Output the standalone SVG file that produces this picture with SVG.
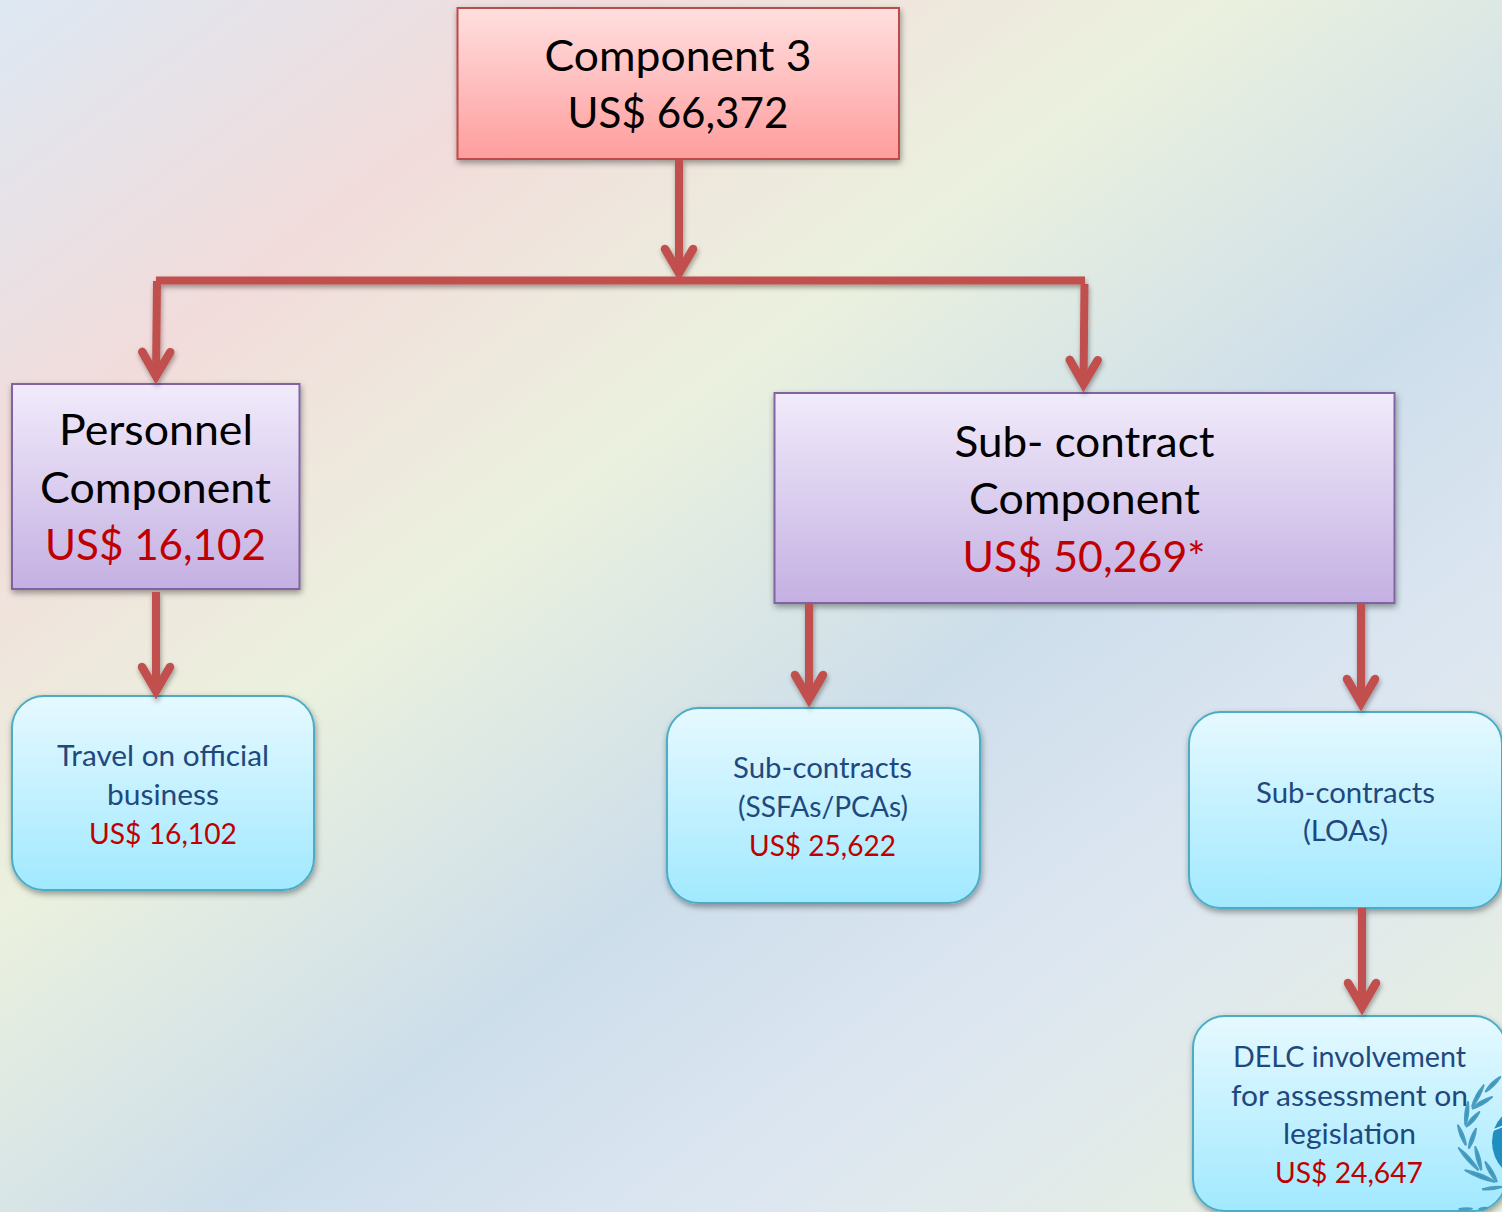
<svg xmlns="http://www.w3.org/2000/svg" width="1502" height="1212" viewBox="0 0 1502 1212">
<style>
text{font-family:"Lato","Open Sans","Liberation Sans",sans-serif;text-anchor:middle}
.big{font-size:42.5px}.small{font-size:29px}
.k{fill:#000}.r{fill:#c00000}.b{fill:#1f497d}
.red{fill:url(#gRed);stroke:#be4b48;stroke-width:2;filter:url(#sh)}
.pur{fill:url(#gPur);stroke:#8064a2;stroke-width:2;filter:url(#sh)}
.cy{fill:url(#gCy);stroke:#4bacc6;stroke-width:2;filter:url(#sh)}
.c{fill:none;stroke:#c0504d;stroke-width:8}
.leaf{fill:#2f93b5;stroke:#4a9cc0;stroke-width:6;stroke-linejoin:round}
</style>
<defs>
<linearGradient id="bg" gradientUnits="userSpaceOnUse" x1="0" y1="0" x2="1122" y2="1497">
<stop offset="0" stop-color="#dde8f3"/><stop offset=".2" stop-color="#f2dcdb"/><stop offset=".39" stop-color="#ebf1de"/><stop offset=".59" stop-color="#cddeeb"/><stop offset=".74" stop-color="#dce6f1"/><stop offset="1" stop-color="#ebf1de"/>
</linearGradient>
<linearGradient id="gRed" x1="0" y1="0" x2="0" y2="1"><stop offset="0" stop-color="#ffdfdf"/><stop offset="1" stop-color="#ff9d9d"/></linearGradient>
<linearGradient id="gPur" x1="0" y1="0" x2="0" y2="1"><stop offset="0" stop-color="#f1ebfb"/><stop offset="1" stop-color="#c4b0e2"/></linearGradient>
<linearGradient id="gCy" x1="0" y1="0" x2="0" y2="1"><stop offset="0" stop-color="#e6f9ff"/><stop offset="1" stop-color="#a1e9ff"/></linearGradient>
<filter id="sh" x="-10%" y="-10%" width="120%" height="125%"><feDropShadow dx="1" dy="3" stdDeviation="3" flood-color="#000" flood-opacity=".38"/></filter>
<filter id="lsh" filterUnits="userSpaceOnUse" x="0" y="0" width="1502" height="1212"><feDropShadow dx="1" dy="3" stdDeviation="2.5" flood-color="#000" flood-opacity=".35"/></filter>
<marker id="arrow" markerUnits="userSpaceOnUse" viewBox="-36 -24 48 48" markerWidth="48" markerHeight="48" refX="0" refY="0" orient="auto">
<path d="M-24,-14 L0,0 L-24,14" fill="none" stroke="#c0504d" stroke-width="8.500" stroke-linecap="round" stroke-miterlimit="6"/>
</marker>
</defs>
<rect id="background" width="1502" height="1212" fill="url(#bg)"/>
<g id="node-component3">
<rect class="red" x="457.500" y="8" width="441.500" height="151"/>
<text class="big k" x="678" y="70.500" textLength="267" lengthAdjust="spacingAndGlyphs">Component 3</text>
<text class="big k" x="678" y="128" textLength="221" lengthAdjust="spacingAndGlyphs">US$ 66,372</text>
</g>
<g id="node-personnel">
<rect class="pur" x="12" y="384" width="287.500" height="205"/>
<text class="big k" x="156" y="445" textLength="194" lengthAdjust="spacingAndGlyphs">Personnel</text>
<text class="big k" x="155.500" y="503" textLength="231" lengthAdjust="spacingAndGlyphs">Component</text>
<text class="big r" x="155.500" y="560" textLength="221" lengthAdjust="spacingAndGlyphs">US$ 16,102</text>
</g>
<g id="node-subcontract">
<rect class="pur" x="774.500" y="393" width="620" height="210"/>
<text class="big k" x="1084.500" y="457" textLength="260" lengthAdjust="spacingAndGlyphs">Sub- contract</text>
<text class="big k" x="1084.500" y="514" textLength="231" lengthAdjust="spacingAndGlyphs">Component</text>
<text class="big r" x="1084" y="572" textLength="243" lengthAdjust="spacingAndGlyphs">US$ 50,269*</text>
</g>
<g id="node-travel">
<rect class="cy" x="12" y="696" width="302" height="194" rx="32"/>
<text class="small b" x="163" y="766" textLength="212" lengthAdjust="spacingAndGlyphs">Travel on official</text>
<text class="small b" x="163" y="804.500" textLength="112" lengthAdjust="spacingAndGlyphs">business</text>
<text class="small r" x="163" y="843.500" textLength="148" lengthAdjust="spacingAndGlyphs">US$ 16,102</text>
</g>
<g id="node-ssfas">
<rect class="cy" x="667" y="708" width="313" height="195" rx="32"/>
<text class="small b" x="822.500" y="778" textLength="179" lengthAdjust="spacingAndGlyphs">Sub-contracts</text>
<text class="small b" x="823" y="817" textLength="170" lengthAdjust="spacingAndGlyphs">(SSFAs/PCAs)</text>
<text class="small r" x="822.500" y="855.500" textLength="147" lengthAdjust="spacingAndGlyphs">US$ 25,622</text>
</g>
<g id="node-loas">
<rect class="cy" x="1189" y="712" width="313" height="196" rx="32"/>
<text class="small b" x="1345.500" y="802.500" textLength="179" lengthAdjust="spacingAndGlyphs">Sub-contracts</text>
<text class="small b" x="1345.500" y="841" textLength="85" lengthAdjust="spacingAndGlyphs">(LOAs)</text>
</g>
<g id="node-delc">
<rect class="cy" x="1193" y="1016" width="313" height="195" rx="32"/>
<text class="small b" x="1349.500" y="1067" textLength="233" lengthAdjust="spacingAndGlyphs">DELC involvement</text>
<text class="small b" x="1349.500" y="1106" textLength="237" lengthAdjust="spacingAndGlyphs">for assessment on</text>
<text class="small b" x="1349.500" y="1144" textLength="133" lengthAdjust="spacingAndGlyphs">legislation</text>
<text class="small r" x="1349" y="1182.500" textLength="148" lengthAdjust="spacingAndGlyphs">US$ 24,647</text>
</g>
<g id="connectors" filter="url(#lsh)">
<path class="c" d="M156,280.500H1085"/>
<path class="c" d="M679,160V273" marker-end="url(#arrow)"/>
<path class="c" d="M157,281L156,376" marker-end="url(#arrow)"/>
<path class="c" d="M1084.500,284L1083.500,384" marker-end="url(#arrow)"/>
<path class="c" d="M156,592V691" marker-end="url(#arrow)"/>
<path class="c" d="M809,603V699" marker-end="url(#arrow)"/>
<path class="c" d="M1361,603V703" marker-end="url(#arrow)"/>
<path class="c" d="M1362,908V1007" marker-end="url(#arrow)"/>
</g>
<g id="emblem" transform="translate(1442,1062) scale(.33333)">
<circle cx="265" cy="240" r="115" fill="#1f8fc0"/>
<path d="M152,205L190,190" stroke="#d8f2fb" stroke-width="5" fill="none"/>
<path class="leaf" d="M130,90Q158,73 175,45Q146,61 130,90"/>
<path class="leaf" d="M90,135Q115,106 125,70Q99,98 90,135"/>
<path class="leaf" d="M90,140Q124,130 150,105Q116,114 90,140"/>
<path class="leaf" d="M70,190Q83,156 78,120Q65,154 70,190"/>
<path class="leaf" d="M72,195Q99,178 112,150Q85,166 72,195"/>
<path class="leaf" d="M72,250Q68,217 48,190Q52,223 72,250"/>
<path class="leaf" d="M80,260Q99,233 102,200Q83,227 80,260"/>
<path class="leaf" d="M110,325Q86,284 50,258Q74,298 110,325"/>
<path class="leaf" d="M118,325Q118,288 100,255Q100,292 118,325"/>
<path class="leaf" d="M160,360Q118,333 70,325Q112,351 160,360"/>
<path class="leaf" d="M165,360Q155,326 130,300Q139,334 165,360"/>
<path class="leaf" d="M120,382Q150,372 180,375Q150,385 120,382"/>
<path class="leaf" d="M50,442Q70,436 90,440Q70,446 50,442"/>
<path class="leaf" d="M110,442Q120,436 135,438Q122,446 110,442"/>
</g>
</svg>
